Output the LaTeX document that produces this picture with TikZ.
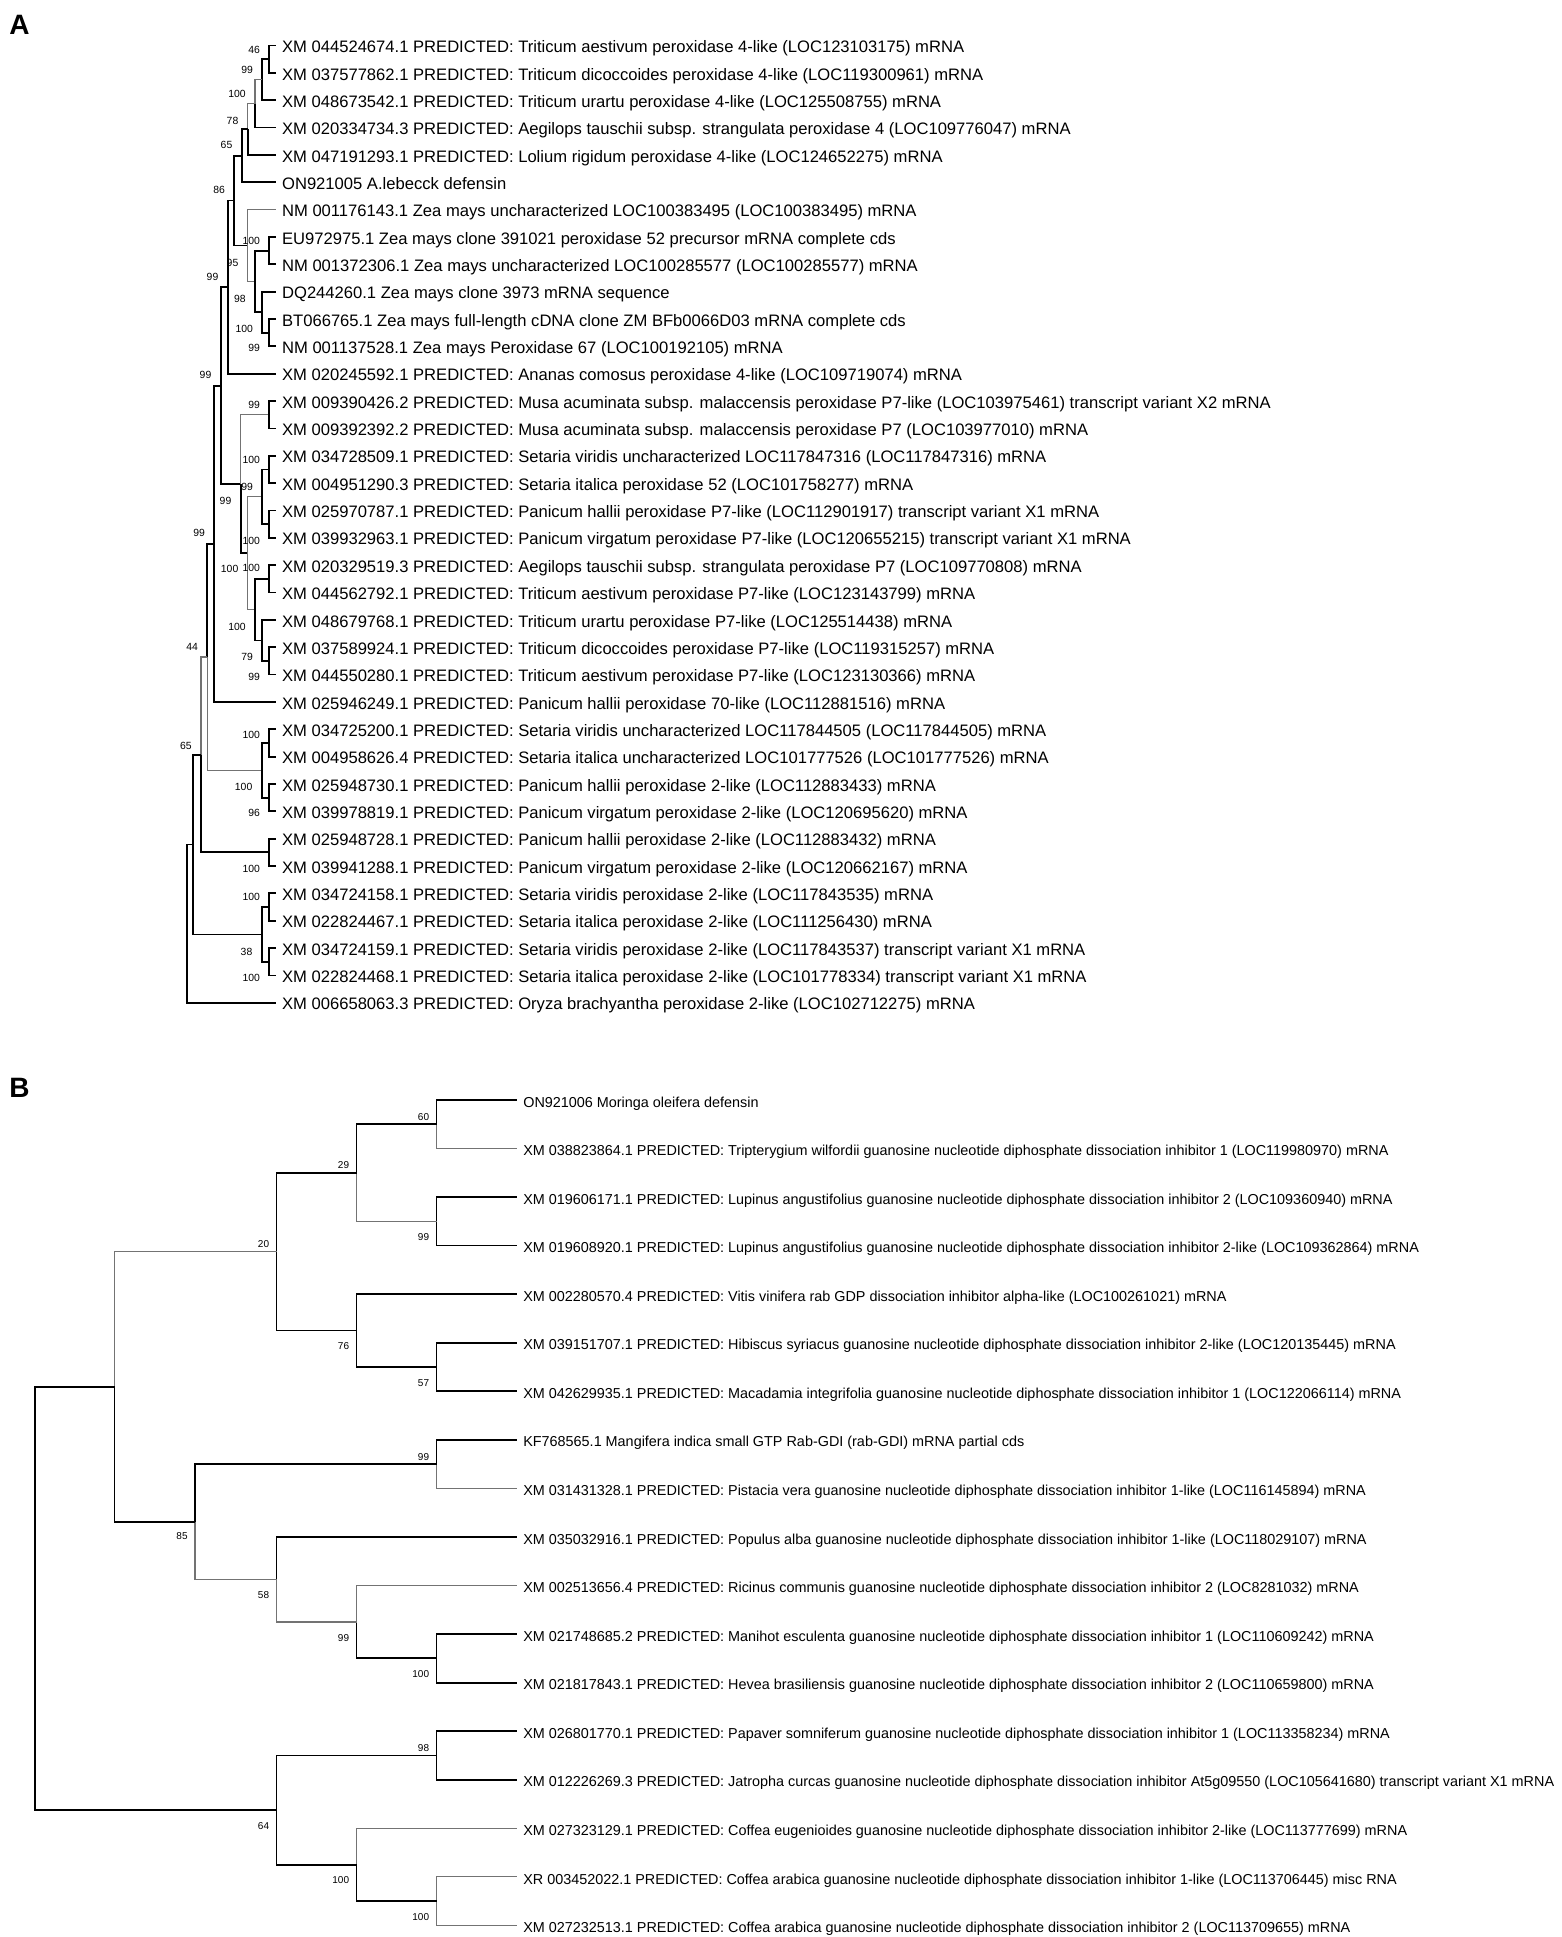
\documentclass[tikz,border=0pt]{standalone}
\usepackage{fontspec}
\setmainfont{Liberation Sans}
\begin{document}
\begin{tikzpicture}[x=0.5pt,y=-0.5pt,
  bk/.style={line width=0.9pt,black},
  gy/.style={line width=0.6pt,black!55},
  lfa/.style={font=\fontsize{8.3}{9}\selectfont,inner sep=0pt,anchor=west,text height=0.716em,text depth=0pt,xshift=2.85pt},
  lfb/.style={font=\fontsize{7.2}{8}\selectfont,inner sep=0pt,anchor=west,text height=0.716em,text depth=0pt,xshift=3.2pt},
  bsa/.style={font=\fontsize{5.2}{6}\selectfont,inner sep=0pt,anchor=east,text height=0.716em,text depth=0pt},
  bsb/.style={font=\fontsize{5}{6}\selectfont,inner sep=0pt,anchor=east,text height=0.716em,text depth=0pt},
  pl/.style={font=\fontsize{14}{16}\selectfont\bfseries,inner sep=0pt,anchor=north west}]
\useasboundingbox[fill=white] (0,0) rectangle (1562,1937);
\node[pl] (panelA) at (9,15) {A};
\node[pl] (panelB) at (9,1078) {B};
% ---------------- Tree A leaves ----------------
\coordinate (Aa0) at (276,45.5);
\coordinate (Aa1) at (276,72.85);
\coordinate (Aa2) at (276,100.2);
\coordinate (Aa3) at (276,127.55);
\coordinate (Aa4) at (276,154.9);
\coordinate (Aa5) at (276,182.25);
\coordinate (Aa6) at (276,209.6);
\coordinate (Aa7) at (276,236.95);
\coordinate (Aa8) at (276,264.3);
\coordinate (Aa9) at (276,291.65);
\coordinate (Aa10) at (276,319.0);
\coordinate (Aa11) at (276,346.35);
\coordinate (Aa12) at (276,373.7);
\coordinate (Aa13) at (276,401.05);
\coordinate (Aa14) at (276,428.4);
\coordinate (Aa15) at (276,455.75);
\coordinate (Aa16) at (276,483.1);
\coordinate (Aa17) at (276,510.45);
\coordinate (Aa18) at (276,537.8);
\coordinate (Aa19) at (276,565.15);
\coordinate (Aa20) at (276,592.5);
\coordinate (Aa21) at (276,619.85);
\coordinate (Aa22) at (276,647.2);
\coordinate (Aa23) at (276,674.55);
\coordinate (Aa24) at (276,701.9);
\coordinate (Aa25) at (276,729.25);
\coordinate (Aa26) at (276,756.6);
\coordinate (Aa27) at (276,783.95);
\coordinate (Aa28) at (276,811.3);
\coordinate (Aa29) at (276,838.65);
\coordinate (Aa30) at (276,866.0);
\coordinate (Aa31) at (276,893.35);
\coordinate (Aa32) at (276,920.7);
\coordinate (Aa33) at (276,948.05);
\coordinate (Aa34) at (276,975.4);
\coordinate (Aa35) at (276,1002.75);
% ---------------- Tree A internal nodes ----------------
\coordinate (A0to1) at (269.3,59.18);
\coordinate (A0to2) at (262.3,79.69);
\coordinate (A0to3) at (255,103.62);
\coordinate (A0to4) at (247.7,129.26);
\coordinate (A0to5) at (241.7,155.75);
\coordinate (A7to8) at (269.3,250.63);
\coordinate (A10to11) at (269.3,332.68);
\coordinate (A9to11) at (262.3,312.16);
\coordinate (A7to11) at (255,281.39);
\coordinate (A6to11) at (247.7,245.5);
\coordinate (A0to11) at (234.3,200.6);
\coordinate (A0to12) at (227.7,287.15);
\coordinate (A13to14) at (269.3,414.7);
\coordinate (A15to16) at (269.3,469.4);
\coordinate (A17to18) at (269.3,524.1);
\coordinate (A15to18) at (262.3,496.8);
\coordinate (A19to20) at (269.3,578.8);
\coordinate (A22to23) at (269.3,660.9);
\coordinate (A21to23) at (262.3,640.4);
\coordinate (A19to23) at (255,609.6);
\coordinate (A15to23) at (247.7,553.2);
\coordinate (A13to23) at (240.7,484);
\coordinate (A0to23) at (220.7,385.6);
\coordinate (A0to24) at (214.3,543.75);
\coordinate (A25to26) at (269.3,742.9);
\coordinate (A27to28) at (269.3,797.6);
\coordinate (A25to28) at (261.7,770.3);
\coordinate (A0to28) at (207.3,657);
\coordinate (A29to30) at (269.3,852.3);
\coordinate (A0to30) at (201,754.7);
\coordinate (A31to32) at (269.3,907);
\coordinate (A33to34) at (269.3,961.7);
\coordinate (A31to34) at (261.7,934.4);
\coordinate (A0to34) at (193.3,844.5);
\coordinate (Aroot) at (186.7,923.6);
% ---------------- Tree A branches ----------------
\draw[bk] (A0to1) |- (Aa0); \draw[bk] (A0to1) |- (Aa1);
\draw[bk] (A0to2) |- (A0to1); \draw[bk] (A0to2) |- (Aa2);
\draw[gy] (A0to3) |- (A0to2); \draw[bk] (A0to3) |- (Aa3);
\draw[gy] (A0to4) |- (A0to3); \draw[bk] (A0to4) |- (Aa4);
\draw[bk] (A0to5) |- (A0to4); \draw[bk] (A0to5) |- (Aa5);
\draw[bk] (A0to11) |- (A0to5); \draw[bk] (A0to11) |- (A6to11);
\draw[gy] (A6to11) |- (Aa6); \draw[gy] (A6to11) |- (A7to11);
\draw[bk] (A7to11) |- (A7to8); \draw[bk] (A7to11) |- (A9to11);
\draw[bk] (A7to8) |- (Aa7); \draw[bk] (A7to8) |- (Aa8);
\draw[bk] (A9to11) |- (Aa9); \draw[bk] (A9to11) |- (A10to11);
\draw[bk] (A10to11) |- (Aa10); \draw[bk] (A10to11) |- (Aa11);
\draw[bk] (A0to12) |- (A0to11); \draw[bk] (A0to12) |- (Aa12);
\draw[bk] (A0to23) |- (A0to12); \draw[bk] (A0to23) |- (A13to23);
\draw[gy] (A13to23) |- (A13to14); \draw[bk] (A13to23) |- (A15to23);
\draw[bk] (A13to14) |- (Aa13); \draw[bk] (A13to14) |- (Aa14);
\draw[gy] (A15to23) |- (A15to18); \draw[gy] (A15to23) |- (A19to23);
\draw[bk] (A15to18) |- (A15to16); \draw[bk] (A15to18) |- (A17to18);
\draw[bk] (A15to16) |- (Aa15); \draw[bk] (A15to16) |- (Aa16);
\draw[bk] (A17to18) |- (Aa17); \draw[bk] (A17to18) |- (Aa18);
\draw[bk] (A19to23) |- (A19to20); \draw[bk] (A19to23) |- (A21to23);
\draw[bk] (A19to20) |- (Aa19); \draw[bk] (A19to20) |- (Aa20);
\draw[bk] (A21to23) |- (Aa21); \draw[bk] (A21to23) |- (A22to23);
\draw[bk] (A22to23) |- (Aa22); \draw[bk] (A22to23) |- (Aa23);
\draw[bk] (A0to24) |- (A0to23); \draw[bk] (A0to24) |- (Aa24);
\draw[bk] (A0to28) |- (A0to24); \draw[gy] (A0to28) |- (A25to28);
\draw[bk] (A25to28) |- (A25to26); \draw[bk] (A25to28) |- (A27to28);
\draw[bk] (A25to26) |- (Aa25); \draw[bk] (A25to26) |- (Aa26);
\draw[bk] (A27to28) |- (Aa27); \draw[bk] (A27to28) |- (Aa28);
\draw[gy] (A0to30) |- (A0to28); \draw[bk] (A0to30) |- (A29to30);
\draw[bk] (A29to30) |- (Aa29); \draw[bk] (A29to30) |- (Aa30);
\draw[bk] (A0to34) |- (A0to30); \draw[bk] (A0to34) |- (A31to34);
\draw[bk] (A31to34) |- (A31to32); \draw[bk] (A31to34) |- (A33to34);
\draw[bk] (A31to32) |- (Aa31); \draw[bk] (A31to32) |- (Aa32);
\draw[bk] (A33to34) |- (Aa33); \draw[bk] (A33to34) |- (Aa34);
\draw[bk] (Aroot) |- (A0to34); \draw[bk] (Aroot) |- (Aa35);
% ---------------- Tree A bootstrap values ----------------
\node[bsa] (Ab1) at ([shift={(-9,-13)}]A0to1) {46};
\node[bsa] (Ab2) at ([shift={(-9,-13)}]A0to2) {99};
\node[bsa] (Ab3) at ([shift={(-9,-13)}]A0to3) {100};
\node[bsa] (Ab4) at ([shift={(-9,-12)}]A0to4) {78};
\node[bsa] (Ab5) at ([shift={(-9,-14)}]A0to5) {65};
\node[bsa] (Ab6) at ([shift={(-9,-14)}]A0to11) {86};
\node[bsa] (Ab7) at ([shift={(-9,-13)}]A7to8) {100};
\node[bsa] (Ab8) at ([shift={(-9,14)}]A6to11) {95};
\node[bsa] (Ab9) at ([shift={(-9,-14)}]A0to12) {99};
\node[bsa] (Ab10) at ([shift={(-9,14)}]A7to11) {98};
\node[bsa] (Ab11) at ([shift={(-9,13)}]A9to11) {100};
\node[bsa] (Ab12) at ([shift={(-9,12)}]A10to11) {99};
\node[bsa] (Ab13) at ([shift={(-9,-14)}]A0to23) {99};
\node[bsa] (Ab14) at ([shift={(-9,-13)}]A13to14) {99};
\node[bsa] (Ab15) at ([shift={(-9,-13)}]A15to16) {100};
\node[bsa] (Ab16) at ([shift={(-9,-13)}]A15to18) {99};
\node[bsa] (Ab17) at ([shift={(-9,13)}]A13to23) {99};
\node[bsa] (Ab18) at ([shift={(-9,-14)}]A0to24) {99};
\node[bsa] (Ab19) at ([shift={(-9,13)}]A17to18) {100};
\node[bsa] (Ab20) at ([shift={(-9,12)}]A15to23) {100};
\node[bsa] (Ab21) at ([shift={(-9,-14)}]A19to20) {100};
\node[bsa] (Ab22) at ([shift={(-9,14)}]A19to23) {100};
\node[bsa] (Ab23) at ([shift={(-9,-14)}]A0to28) {44};
\node[bsa] (Ab24) at ([shift={(-9,13)}]A21to23) {79};
\node[bsa] (Ab25) at ([shift={(-9,12)}]A22to23) {99};
\node[bsa] (Ab26) at ([shift={(-9,-12)}]A25to26) {100};
\node[bsa] (Ab27) at ([shift={(-9,-12)}]A0to30) {65};
\node[bsa] (Ab28) at ([shift={(-9,13)}]A25to28) {100};
\node[bsa] (Ab29) at ([shift={(-9,12)}]A27to28) {96};
\node[bsa] (Ab30) at ([shift={(-9,13)}]A29to30) {100};
\node[bsa] (Ab31) at ([shift={(-9,-14)}]A31to32) {100};
\node[bsa] (Ab32) at ([shift={(-9,14)}]A31to34) {38};
\node[bsa] (Ab33) at ([shift={(-9,13)}]A33to34) {100};
% ---------------- Tree A labels ----------------
\node[lfa] (At0) at (Aa0) {XM 044524674.1 PREDICTED: Triticum aestivum peroxidase 4-like (LOC123103175) mRNA};
\node[lfa] (At1) at (Aa1) {XM 037577862.1 PREDICTED: Triticum dicoccoides peroxidase 4-like (LOC119300961) mRNA};
\node[lfa] (At2) at (Aa2) {XM 048673542.1 PREDICTED: Triticum urartu peroxidase 4-like (LOC125508755) mRNA};
\node[lfa] (At3) at (Aa3) {XM 020334734.3 PREDICTED: Aegilops tauschii subsp. strangulata peroxidase 4 (LOC109776047) mRNA};
\node[lfa] (At4) at (Aa4) {XM 047191293.1 PREDICTED: Lolium rigidum peroxidase 4-like (LOC124652275) mRNA};
\node[lfa] (At5) at (Aa5) {ON921005 A.lebecck defensin};
\node[lfa] (At6) at (Aa6) {NM 001176143.1 Zea mays uncharacterized LOC100383495 (LOC100383495) mRNA};
\node[lfa] (At7) at (Aa7) {EU972975.1 Zea mays clone 391021 peroxidase 52 precursor mRNA complete cds};
\node[lfa] (At8) at (Aa8) {NM 001372306.1 Zea mays uncharacterized LOC100285577 (LOC100285577) mRNA};
\node[lfa] (At9) at (Aa9) {DQ244260.1 Zea mays clone 3973 mRNA sequence};
\node[lfa] (At10) at (Aa10) {BT066765.1 Zea mays full-length cDNA clone ZM BFb0066D03 mRNA complete cds};
\node[lfa] (At11) at (Aa11) {NM 001137528.1 Zea mays Peroxidase 67 (LOC100192105) mRNA};
\node[lfa] (At12) at (Aa12) {XM 020245592.1 PREDICTED: Ananas comosus peroxidase 4-like (LOC109719074) mRNA};
\node[lfa] (At13) at (Aa13) {XM 009390426.2 PREDICTED: Musa acuminata subsp. malaccensis peroxidase P7-like (LOC103975461) transcript variant X2 mRNA};
\node[lfa] (At14) at (Aa14) {XM 009392392.2 PREDICTED: Musa acuminata subsp. malaccensis peroxidase P7 (LOC103977010) mRNA};
\node[lfa] (At15) at (Aa15) {XM 034728509.1 PREDICTED: Setaria viridis uncharacterized LOC117847316 (LOC117847316) mRNA};
\node[lfa] (At16) at (Aa16) {XM 004951290.3 PREDICTED: Setaria italica peroxidase 52 (LOC101758277) mRNA};
\node[lfa] (At17) at (Aa17) {XM 025970787.1 PREDICTED: Panicum hallii peroxidase P7-like (LOC112901917) transcript variant X1 mRNA};
\node[lfa] (At18) at (Aa18) {XM 039932963.1 PREDICTED: Panicum virgatum peroxidase P7-like (LOC120655215) transcript variant X1 mRNA};
\node[lfa] (At19) at (Aa19) {XM 020329519.3 PREDICTED: Aegilops tauschii subsp. strangulata peroxidase P7 (LOC109770808) mRNA};
\node[lfa] (At20) at (Aa20) {XM 044562792.1 PREDICTED: Triticum aestivum peroxidase P7-like (LOC123143799) mRNA};
\node[lfa] (At21) at (Aa21) {XM 048679768.1 PREDICTED: Triticum urartu peroxidase P7-like (LOC125514438) mRNA};
\node[lfa] (At22) at (Aa22) {XM 037589924.1 PREDICTED: Triticum dicoccoides peroxidase P7-like (LOC119315257) mRNA};
\node[lfa] (At23) at (Aa23) {XM 044550280.1 PREDICTED: Triticum aestivum peroxidase P7-like (LOC123130366) mRNA};
\node[lfa] (At24) at (Aa24) {XM 025946249.1 PREDICTED: Panicum hallii peroxidase 70-like (LOC112881516) mRNA};
\node[lfa] (At25) at (Aa25) {XM 034725200.1 PREDICTED: Setaria viridis uncharacterized LOC117844505 (LOC117844505) mRNA};
\node[lfa] (At26) at (Aa26) {XM 004958626.4 PREDICTED: Setaria italica uncharacterized LOC101777526 (LOC101777526) mRNA};
\node[lfa] (At27) at (Aa27) {XM 025948730.1 PREDICTED: Panicum hallii peroxidase 2-like (LOC112883433) mRNA};
\node[lfa] (At28) at (Aa28) {XM 039978819.1 PREDICTED: Panicum virgatum peroxidase 2-like (LOC120695620) mRNA};
\node[lfa] (At29) at (Aa29) {XM 025948728.1 PREDICTED: Panicum hallii peroxidase 2-like (LOC112883432) mRNA};
\node[lfa] (At30) at (Aa30) {XM 039941288.1 PREDICTED: Panicum virgatum peroxidase 2-like (LOC120662167) mRNA};
\node[lfa] (At31) at (Aa31) {XM 034724158.1 PREDICTED: Setaria viridis peroxidase 2-like (LOC117843535) mRNA};
\node[lfa] (At32) at (Aa32) {XM 022824467.1 PREDICTED: Setaria italica peroxidase 2-like (LOC111256430) mRNA};
\node[lfa] (At33) at (Aa33) {XM 034724159.1 PREDICTED: Setaria viridis peroxidase 2-like (LOC117843537) transcript variant X1 mRNA};
\node[lfa] (At34) at (Aa34) {XM 022824468.1 PREDICTED: Setaria italica peroxidase 2-like (LOC101778334) transcript variant X1 mRNA};
\node[lfa] (At35) at (Aa35) {XM 006658063.3 PREDICTED: Oryza brachyantha peroxidase 2-like (LOC102712275) mRNA};
% ---------------- Tree B leaves ----------------
\coordinate (Ba0) at (516.5,1099.9);
\coordinate (Ba1) at (516.5,1148.46);
\coordinate (Ba2) at (516.5,1197.02);
\coordinate (Ba3) at (516.5,1245.58);
\coordinate (Ba4) at (516.5,1294.14);
\coordinate (Ba5) at (516.5,1342.7);
\coordinate (Ba6) at (516.5,1391.26);
\coordinate (Ba7) at (516.5,1439.82);
\coordinate (Ba8) at (516.5,1488.38);
\coordinate (Ba9) at (516.5,1536.94);
\coordinate (Ba10) at (516.5,1585.5);
\coordinate (Ba11) at (516.5,1634.06);
\coordinate (Ba12) at (516.5,1682.62);
\coordinate (Ba13) at (516.5,1731.18);
\coordinate (Ba14) at (516.5,1779.74);
\coordinate (Ba15) at (516.5,1828.3);
\coordinate (Ba16) at (516.5,1876.86);
\coordinate (Ba17) at (516.5,1925.42);
% ---------------- Tree B internal nodes ----------------
\coordinate (B0to1) at (436.5,1124.18);
\coordinate (B2to3) at (436.5,1221.3);
\coordinate (B0to3) at (356.5,1172.74);
\coordinate (B5to6) at (436.5,1366.98);
\coordinate (B4to6) at (356.5,1330.56);
\coordinate (B0to6) at (276.5,1251.65);
\coordinate (B7to8) at (436.5,1464.1);
\coordinate (B11to12) at (436.5,1658.34);
\coordinate (B10to12) at (356.5,1621.92);
\coordinate (B9to12) at (276.5,1579.43);
\coordinate (B7to12) at (195,1521.77);
\coordinate (B0to12) at (114.5,1386.71);
\coordinate (B13to14) at (436.5,1755.46);
\coordinate (B16to17) at (436.5,1901.14);
\coordinate (B15to17) at (356.5,1864.72);
\coordinate (B13to17) at (276.5,1810.09);
\coordinate (Broot) at (35,1598.4);
% ---------------- Tree B branches ----------------
\draw[bk] (B0to1) |- (Ba0); \draw[gy] (B0to1) |- (Ba1);
\draw[bk] (B2to3) |- (Ba2); \draw[bk] (B2to3) |- (Ba3);
\draw[bk] (B0to3) |- (B0to1); \draw[gy] (B0to3) |- (B2to3);
\draw[bk] (B5to6) |- (Ba5); \draw[bk] (B5to6) |- (Ba6);
\draw[bk] (B4to6) |- (Ba4); \draw[bk] (B4to6) |- (B5to6);
\draw[bk] (B0to6) |- (B0to3); \draw[bk] (B0to6) |- (B4to6);
\draw[bk] (B7to8) |- (Ba7); \draw[gy] (B7to8) |- (Ba8);
\draw[bk] (B11to12) |- (Ba11); \draw[bk] (B11to12) |- (Ba12);
\draw[gy] (B10to12) |- (Ba10); \draw[bk] (B10to12) |- (B11to12);
\draw[bk] (B9to12) |- (Ba9); \draw[gy] (B9to12) |- (B10to12);
\draw[bk] (B7to12) |- (B7to8); \draw[gy] (B7to12) |- (B9to12);
\draw[gy] (B0to12) |- (B0to6); \draw[bk] (B0to12) |- (B7to12);
\draw[bk] (B13to14) |- (Ba13); \draw[bk] (B13to14) |- (Ba14);
\draw[gy] (B16to17) |- (Ba16); \draw[gy] (B16to17) |- (Ba17);
\draw[gy] (B15to17) |- (Ba15); \draw[bk] (B15to17) |- (B16to17);
\draw[bk] (B13to17) |- (B13to14); \draw[bk] (B13to17) |- (B15to17);
\draw[bk] (Broot) |- (B0to12); \draw[bk] (Broot) |- (B13to17);
% ---------------- Tree B bootstrap values ----------------
\node[bsb] (Bb1) at ([shift={(-7,-11)}]B0to1) {60};
\node[bsb] (Bb2) at ([shift={(-7,-11)}]B0to3) {29};
\node[bsb] (Bb3) at ([shift={(-7,12)}]B2to3) {99};
\node[bsb] (Bb4) at ([shift={(-7,-11)}]B0to6) {20};
\node[bsb] (Bb5) at ([shift={(-7,12)}]B4to6) {76};
\node[bsb] (Bb6) at ([shift={(-7,12)}]B5to6) {57};
\node[bsb] (Bb7) at ([shift={(-7,-11)}]B7to8) {99};
\node[bsb] (Bb8) at ([shift={(-7,11)}]B7to12) {85};
\node[bsb] (Bb9) at ([shift={(-7,12)}]B9to12) {58};
\node[bsb] (Bb10) at ([shift={(-7,12)}]B10to12) {99};
\node[bsb] (Bb11) at ([shift={(-7,12)}]B11to12) {100};
\node[bsb] (Bb12) at ([shift={(-7,-11)}]B13to14) {98};
\node[bsb] (Bb13) at ([shift={(-7,12)}]B13to17) {64};
\node[bsb] (Bb14) at ([shift={(-7,12)}]B15to17) {100};
\node[bsb] (Bb15) at ([shift={(-7,12)}]B16to17) {100};
% ---------------- Tree B labels ----------------
\node[lfb] (Bt0) at (Ba0) {ON921006 Moringa oleifera defensin};
\node[lfb] (Bt1) at (Ba1) {XM 038823864.1 PREDICTED: Tripterygium wilfordii guanosine nucleotide diphosphate dissociation inhibitor 1 (LOC119980970) mRNA};
\node[lfb] (Bt2) at (Ba2) {XM 019606171.1 PREDICTED: Lupinus angustifolius guanosine nucleotide diphosphate dissociation inhibitor 2 (LOC109360940) mRNA};
\node[lfb] (Bt3) at (Ba3) {XM 019608920.1 PREDICTED: Lupinus angustifolius guanosine nucleotide diphosphate dissociation inhibitor 2-like (LOC109362864) mRNA};
\node[lfb] (Bt4) at (Ba4) {XM 002280570.4 PREDICTED: Vitis vinifera rab GDP dissociation inhibitor alpha-like (LOC100261021) mRNA};
\node[lfb] (Bt5) at (Ba5) {XM 039151707.1 PREDICTED: Hibiscus syriacus guanosine nucleotide diphosphate dissociation inhibitor 2-like (LOC120135445) mRNA};
\node[lfb] (Bt6) at (Ba6) {XM 042629935.1 PREDICTED: Macadamia integrifolia guanosine nucleotide diphosphate dissociation inhibitor 1 (LOC122066114) mRNA};
\node[lfb] (Bt7) at (Ba7) {KF768565.1 Mangifera indica small GTP Rab-GDI (rab-GDI) mRNA partial cds};
\node[lfb] (Bt8) at (Ba8) {XM 031431328.1 PREDICTED: Pistacia vera guanosine nucleotide diphosphate dissociation inhibitor 1-like (LOC116145894) mRNA};
\node[lfb] (Bt9) at (Ba9) {XM 035032916.1 PREDICTED: Populus alba guanosine nucleotide diphosphate dissociation inhibitor 1-like (LOC118029107) mRNA};
\node[lfb] (Bt10) at (Ba10) {XM 002513656.4 PREDICTED: Ricinus communis guanosine nucleotide diphosphate dissociation inhibitor 2 (LOC8281032) mRNA};
\node[lfb] (Bt11) at (Ba11) {XM 021748685.2 PREDICTED: Manihot esculenta guanosine nucleotide diphosphate dissociation inhibitor 1 (LOC110609242) mRNA};
\node[lfb] (Bt12) at (Ba12) {XM 021817843.1 PREDICTED: Hevea brasiliensis guanosine nucleotide diphosphate dissociation inhibitor 2 (LOC110659800) mRNA};
\node[lfb] (Bt13) at (Ba13) {XM 026801770.1 PREDICTED: Papaver somniferum guanosine nucleotide diphosphate dissociation inhibitor 1 (LOC113358234) mRNA};
\node[lfb] (Bt14) at (Ba14) {XM 012226269.3 PREDICTED: Jatropha curcas guanosine nucleotide diphosphate dissociation inhibitor At5g09550 (LOC105641680) transcript variant X1 mRNA};
\node[lfb] (Bt15) at (Ba15) {XM 027323129.1 PREDICTED: Coffea eugenioides guanosine nucleotide diphosphate dissociation inhibitor 2-like (LOC113777699) mRNA};
\node[lfb] (Bt16) at (Ba16) {XR 003452022.1 PREDICTED: Coffea arabica guanosine nucleotide diphosphate dissociation inhibitor 1-like (LOC113706445) misc RNA};
\node[lfb] (Bt17) at (Ba17) {XM 027232513.1 PREDICTED: Coffea arabica guanosine nucleotide diphosphate dissociation inhibitor 2 (LOC113709655) mRNA};
\end{tikzpicture}
\end{document}
